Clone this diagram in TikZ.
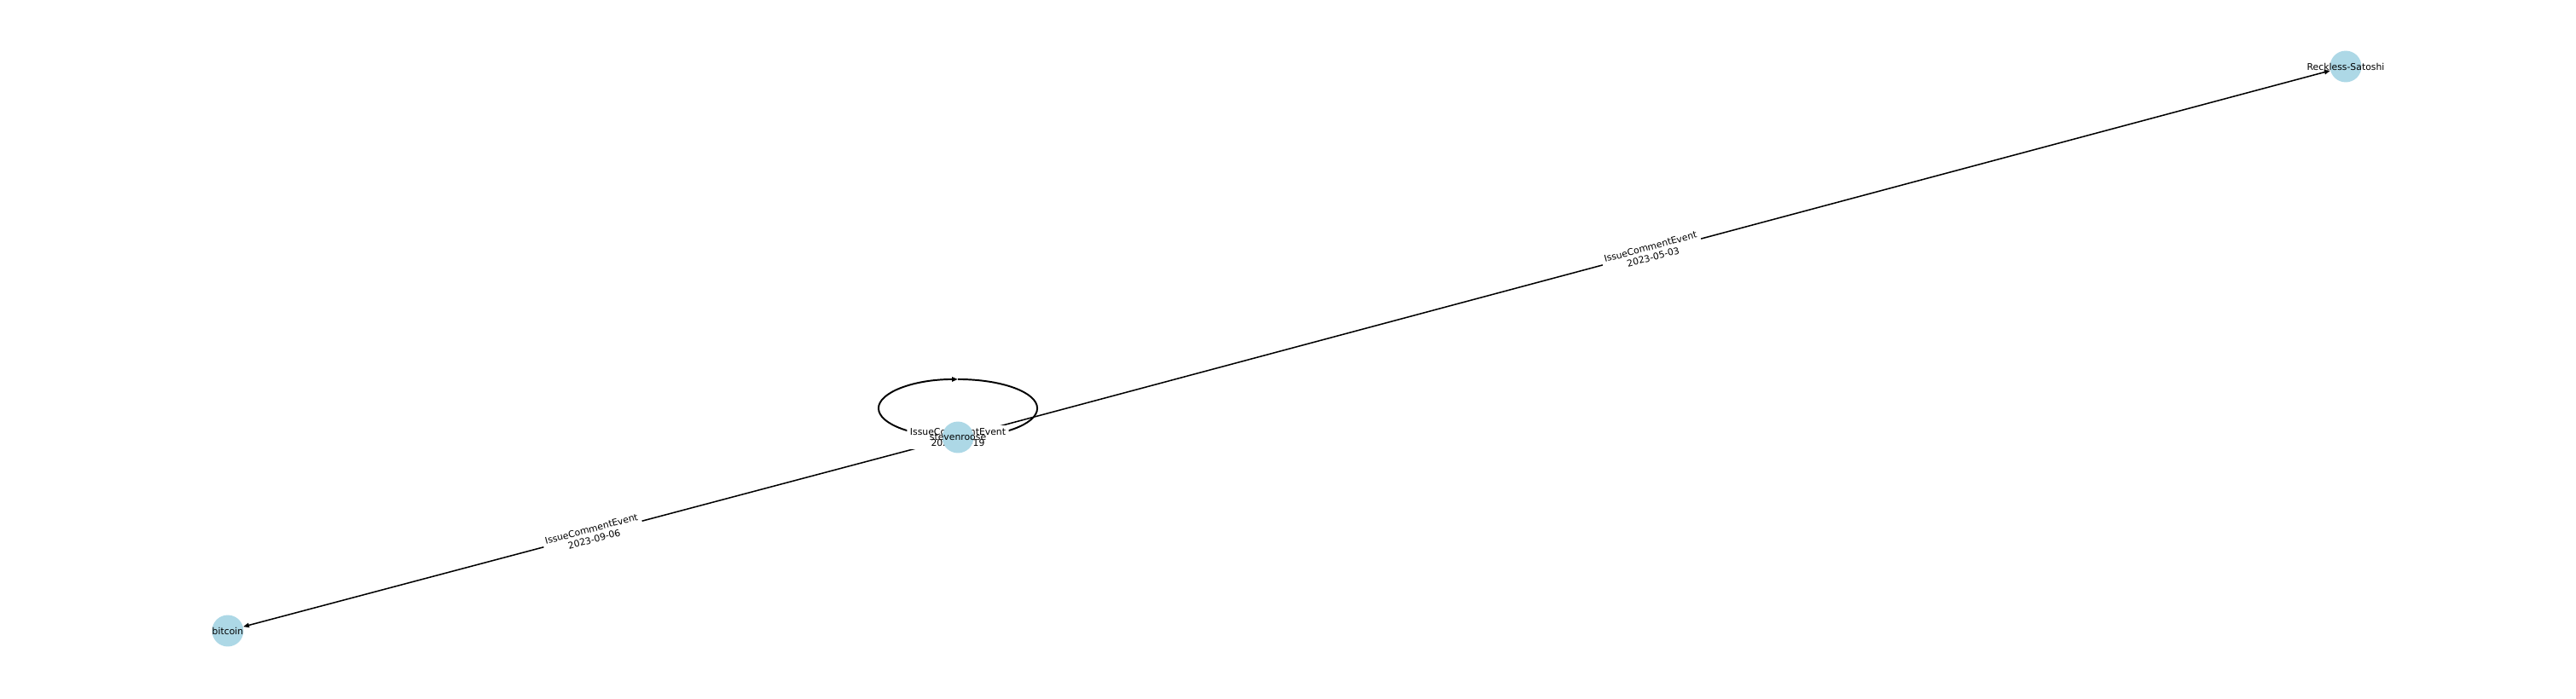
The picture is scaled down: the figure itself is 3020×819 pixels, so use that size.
\documentclass[tikz,border=0pt]{standalone}
\usepackage{fontspec}
\setmainfont{DejaVu Sans}
\usetikzlibrary{arrows.meta}
\definecolor{nodeblue}{RGB}{173,216,230}
\pgfdeclarelayer{edges}
\pgfsetlayers{edges,main}

\begin{document}
\begin{tikzpicture}[x=0.72pt, y=-0.72pt,
    vertex/.style={circle, fill=nodeblue, minimum size=26.6pt, inner sep=0pt},
    vlabel/.style={font=\fontsize{7.8}{9.4}\selectfont, inner sep=0pt},
    edge/.style={line width=1.1pt, -{Triangle[length=5pt,width=3.8pt]}},
    elabel/.style={fill=white, rounded corners=2pt, align=center, inner sep=2.5pt,
      font=\fontsize{7.8}{9}\selectfont}]
    \useasboundingbox (0,0) rectangle (3020,819);
    \node[vertex, label={[vlabel]center:stevenroose}] (stev) at (1123,513) {};
    \node[vertex, label={[vlabel]center:Reckless-Satoshi}] (reck) at (2750,78) {};
    \node[vertex, label={[vlabel]center:bitcoin}] (btc) at (267,740) {};
    \begin{pgfonlayer}{edges}
      \draw[edge] (stev) -- node[elabel, sloped] {IssueCommentEvent\\2023-05-03} (reck);
      \draw[edge] (stev) -- node[elabel, sloped] {IssueCommentEvent\\2023-09-06} (btc);
      \draw[edge, line width=1.4pt] (stev.center) arc[start angle=270, end angle=90, x radius=67pt, y radius=24.5pt] coordinate (looptop);
      \draw[line width=1.4pt] (looptop) arc[start angle=90, end angle=-90, x radius=67pt, y radius=24.5pt];
      \node[elabel] (looplabel) at (stev) {IssueCommentEvent\\2023-06-19};
    \end{pgfonlayer}
\end{tikzpicture}
\end{document}
